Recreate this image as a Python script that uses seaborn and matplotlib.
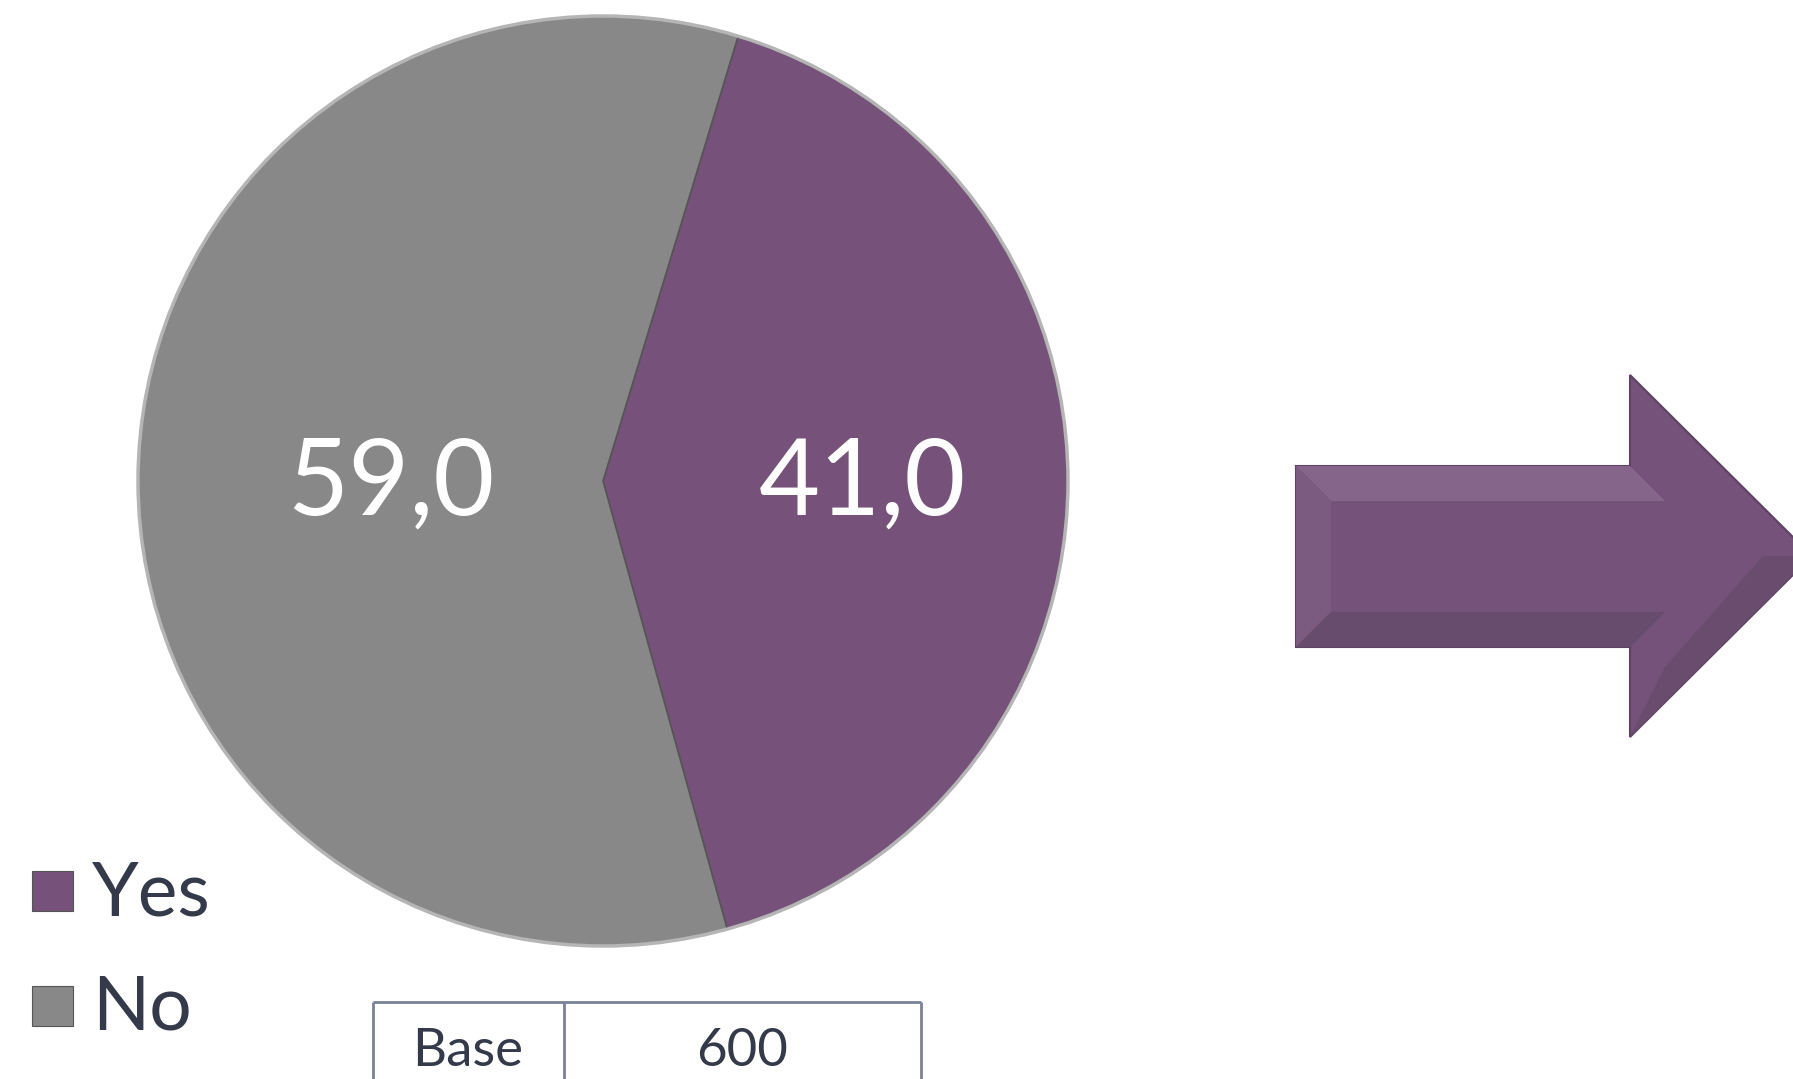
import matplotlib
matplotlib.use("Agg")
import matplotlib.pyplot as plt
import seaborn as sns
from matplotlib.patches import Polygon, Rectangle

# ---- data ----
categories = ["Yes", "No"]
values = [41.0, 59.0]
value_labels = ["41,0", "59,0"]
base_label = "Base"
base_value = "600"
colors = ["#76527A", "#888888"]

sns.set_theme(style="white")
plt.rcParams['font.family'] = ['Lato', 'DejaVu Sans']

W, H = 1793, 1079
fig = plt.figure(figsize=(W / 100, H / 100), dpi=100)
ax = fig.add_axes([0, 0, 1, 1])

def Y(y):
    return H - y

# pie
cx, cy, r = 603, Y(481), 465
wedges, _ = ax.pie(values, colors=colors, startangle=73.1, counterclock=False,
                   center=(cx, cy), radius=r, frame=True,
                   wedgeprops=dict(edgecolor="#555555", linewidth=1.2))
ax.set_xlim(0, W)
ax.set_ylim(0, H)
ax.set_aspect("equal")
ax.axis("off")
circ = plt.Circle((cx, cy), r, fill=False, edgecolor="#b5b5b5", linewidth=2.5, zorder=3)
ax.add_patch(circ)

# value labels
label_pos = [(862, 515), (391, 515)]
for (x, y), t in zip(label_pos, value_labels):
    ax.text(x, Y(y), t, color="white", fontsize=76, ha="center", va="baseline",
            fontweight="normal", zorder=5)

# arrow (bevel style)
arrow_color = "#74527A"
shaft_l, shaft_t, shaft_b = 1296, 466, 647
head_x, head_t, head_b = 1630, 375, 737
tip_x, tip_y = 1812, 556
pts = [(shaft_l, shaft_t), (head_x, shaft_t), (head_x, head_t), (tip_x, tip_y),
       (head_x, head_b), (head_x, shaft_b), (shaft_l, shaft_b)]
ax.add_patch(Polygon([(x, Y(y)) for x, y in pts], closed=True, facecolor=arrow_color,
                     edgecolor="#5E4262", linewidth=1.5, zorder=2))
bev = 35
ax.add_patch(Polygon([(x, Y(y)) for x, y in [(shaft_l, shaft_t), (head_x, shaft_t),
                      (head_x + bev, shaft_t + bev), (shaft_l + bev, shaft_t + bev)]],
                     closed=True, facecolor="#86658B", edgecolor="none", zorder=2.5))
ax.add_patch(Polygon([(x, Y(y)) for x, y in [(shaft_l, shaft_t), (shaft_l + bev, shaft_t + bev),
                      (shaft_l + bev, shaft_b - bev), (shaft_l, shaft_b)]],
                     closed=True, facecolor="#7B5B80", edgecolor="none", zorder=2.5))
ax.add_patch(Polygon([(x, Y(y)) for x, y in [(shaft_l, shaft_b), (shaft_l + bev, shaft_b - bev),
                      (head_x + bev, shaft_b - bev), (head_x, shaft_b)]],
                     closed=True, facecolor="#684C6D", edgecolor="none", zorder=2.5))
ax.add_patch(Polygon([(x, Y(y)) for x, y in [(head_x, head_b), (tip_x, tip_y),
                      (tip_x - bev * 1.4, tip_y), (head_x + bev, shaft_b + 20)]],
                     closed=True, facecolor="#694C6E", edgecolor="none", zorder=2.5))

# legend
text_color = "#343a4a"
leg_items = [(categories[0], colors[0], 871, 915), (categories[1], colors[1], 986, 1029)]
for name, col, sq_top, base in leg_items:
    ax.add_patch(Rectangle((32, Y(sq_top + 40)), 41, 40, facecolor=col,
                           edgecolor="#555555", linewidth=0.8, zorder=4))
    ax.text(92, Y(base), name, color=text_color, fontsize=54, ha="left", va="baseline",
            fontweight="normal")

# base table
tcol = "#7A8299"
tl, tr, tt, tdiv = 373, 921, 1002, 564
ax.plot([tl, tr], [Y(tt), Y(tt)], color=tcol, lw=2, solid_capstyle="butt")
for x in (tl, tdiv, tr):
    ax.plot([x, x], [Y(tt), Y(1085)], color=tcol, lw=2, solid_capstyle="butt")
ax.text(468, Y(1066), base_label, color=text_color, fontsize=38, ha="center", va="baseline",
        fontweight="normal")
ax.text(742, Y(1066), base_value, color=text_color, fontsize=38, ha="center", va="baseline",
        fontweight="normal")

fig.savefig("out.png", dpi=100, facecolor="white")
